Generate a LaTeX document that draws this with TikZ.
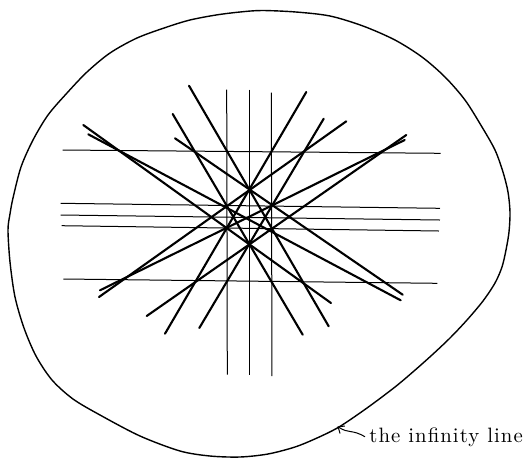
\documentclass[tikz,border=0pt]{standalone}
\usepackage{fontspec}
\usepackage{tikz}
\usetikzlibrary{arrows.meta}
\newfontfamily\labelfont{Latin Modern Roman}[LetterSpace=5]
\tikzset{
  % closed outer curve
  rim/.style   = {line width=0.7pt, line cap=round},
  % thin axis-parallel lines
  rule/.style  = {line width=0.5pt},
  % heavy slanted lines
  ray/.style   = {line width=1.05pt, line cap=round},
  note/.style  = {font=\labelfont\fontsize{10.4}{12}\selectfont,
                  inner sep=1pt, anchor=base west},
  pointer/.style = {-{Straight Barb[length=2.6pt,width=4.5pt]}, line width=0.5pt},
}

\begin{document}
\begin{tikzpicture}[x=0.5pt,y=-0.5pt]
\useasboundingbox (0,0) rectangle (532,457);

% the infinity line
\draw[rim] plot[smooth cycle, tension=0.5] coordinates {
  (262,10.5) (296,12) (330,16) (363,26) (395,40) (422,57) (445,77)
  (465,100) (482,127) (495,150) (503,172) (508,192) (510,212) (509,232)
  (506,250) (502,267) (495,283) (483,301) (467,320) (450,338) (432,355)
  (414,371) (395,387) (367,408) (339,427) (317,438) (295,447) (268,454)
  (240,457) (210,456) (180,451) (140,436) (100,415) (73,399) (52,380)
  (36,356) (24,328) (15,297) (10,262) (8,230) (10,214) (13,198) (21,167)
  (33,140) (48,115) (67,93) (87,72) (110,53) (137,38) (167,27) (190,20)
  (216,15) (240,12)};

% horizontal lines
\foreach \xa/\ya/\xb/\yb in {62.7/150/440.7/153.3, 60.7/203.3/440/208.3,
    60.7/215/440/220, 61.7/225.7/439/231, 63.3/279/437.3/283.3}
  {\draw[rule] (\xa,\ya) -- (\xb,\yb);}

% vertical lines
\foreach \xa/\ya/\xb/\yb in {226.7/89.5/227.3/374.7, 249.3/89.5/249.3/374.7,
    271.3/92.7/272/376}
  {\draw[rule] (\xa,\ya) -- (\xb,\yb);}

% slanted lines, falling to the right
\foreach \xa/\ya/\xb/\yb in {189/85.7/328.7/326.3, 172.7/114/302.7/334.7,
    175/138.3/402.7/294.7, 83.3/125/331/303, 88.3/134.3/400.7/300.3}
  {\draw[ray] (\xa,\ya) -- (\xb,\yb);}

% slanted lines, rising to the right
\foreach \xa/\ya/\xb/\yb in {306.3/92/165/333.7, 323.7/118.7/199.3/328,
    346.3/121.3/99/297, 406.3/135/146.7/316, 404.7/140/100/290.3}
  {\draw[ray] (\xa,\ya) -- (\xb,\yb);}

% label
\node[note] (inf) at (367,442) {the infinity line};
\coordinate (hit) at (337.5,426.5);
\draw[pointer] ([xshift=-1pt]inf.west) .. controls (352,429) and (349,434) .. (hit);
\end{tikzpicture}
\end{document}
